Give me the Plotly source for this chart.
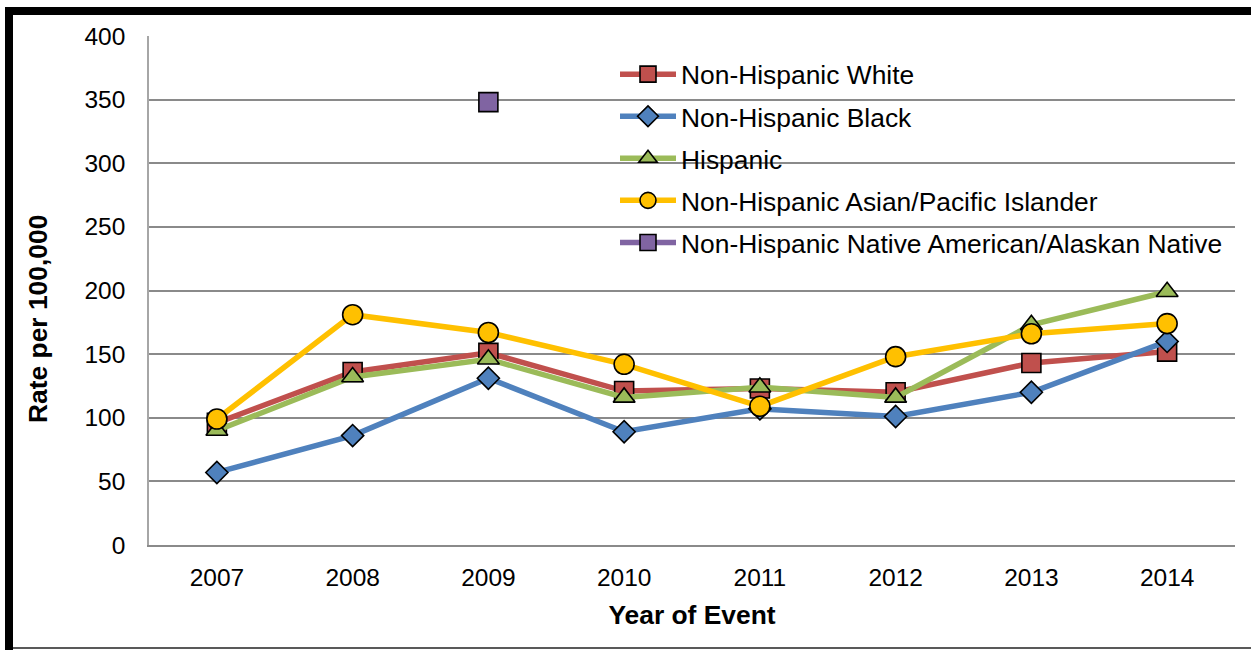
import plotly.graph_objects as go

# ---- data ----
years = ["2007", "2008", "2009", "2010", "2011", "2012", "2013", "2014"]
nh_white = [96, 136, 151, 121, 123, 120, 143, 152]
nh_black = [57, 86, 131, 89, 107, 101, 120, 160]
hispanic = [90, 132, 146, 116, 124, 116, 173, 199]
nh_asian_pi = [99, 181, 167, 142, 109, 148, 166, 174]
nh_native = [None, None, 348, None, None, None, None, None]
y_ticks = [0, 50, 100, 150, 200, 250, 300, 350, 400]

# ---- page geometry (px) ----
W, H = 1251, 650
L, R, T, B = 149, 16, 36, 105
PW, PH = W - L - R, H - T - B


def px(xp, yp):
    """Convert page pixel coordinates to paper coordinates."""
    return (xp - L) / PW, (H - B - yp) / PH


FONT = "Liberation Sans, Arial, sans-serif"

series = [
    ("Non-Hispanic White", nh_white, "#C0504D", "square", 19),
    ("Non-Hispanic Black", nh_black, "#4F81BD", "diamond", 17),
    ("Hispanic", hispanic, "#9BBB59", "triangle-up", 19),
    ("Non-Hispanic Asian/Pacific Islander", nh_asian_pi, "#FFC000", "circle", 20),
    ("Non-Hispanic Native American/Alaskan Native", nh_native, "#8064A2", "square", 19),
]

fig = go.Figure()
for i, (name, vals, color, sym, size) in enumerate(series):
    fig.add_trace(go.Scatter(
        x=years, y=vals, name=name, mode="lines+markers",
        line=dict(color=color, width=5.5),
        marker=dict(symbol=sym, size=size, color=color,
                    line=dict(color="black", width=1.6)),
        connectgaps=False, legendgroup=f"g{i}",
    ))

# frame: heavy top and left rules, thin bottom rule
x0, y0 = px(5, 7)
x1, y1 = px(W, 15)
fig.add_shape(type="rect", xref="paper", yref="paper", x0=x0, x1=x1, y0=y0, y1=y1,
              fillcolor="black", line_width=0, layer="above")
x0, y0 = px(5, 7)
x1, y1 = px(13, H)
fig.add_shape(type="rect", xref="paper", yref="paper", x0=x0, x1=x1, y0=y0, y1=y1,
              fillcolor="black", line_width=0, layer="above")
x0, y0 = px(13, 648)
x1, _ = px(W, 648)
fig.add_shape(type="line", xref="paper", yref="paper", x0=x0, x1=x1, y0=y0, y1=y0,
              line=dict(color="#222222", width=1.5), layer="above")

# white panel behind the legend hides the gridlines there
x0, y0 = px(607, 44)
x1, y1 = px(1236, 266)
fig.add_shape(type="rect", xref="paper", yref="paper", x0=x0, x1=x1, y0=y0, y1=y1,
              fillcolor="white", line_width=0, layer="between")

# y-axis title
tx, ty = px(38, 319)
fig.add_annotation(text="<b>Rate per 100,000</b>", xref="paper", yref="paper",
                   x=tx, y=ty, xanchor="center", yanchor="middle", textangle=-90,
                   showarrow=False, font=dict(size=26.4, family=FONT, color="black"))

lx, ly = px(615, 50.5)
fig.update_layout(
    width=W, height=H,
    margin=dict(l=L, r=R, t=T, b=B, autoexpand=False),
    paper_bgcolor="white", plot_bgcolor="white",
    font=dict(family=FONT, color="black"),
    showlegend=True,
    legend=dict(x=lx, y=ly, xanchor="left", yanchor="top",
                bgcolor="rgba(0,0,0,0)", borderwidth=0,
                font=dict(size=26.4, family=FONT, color="black"),
                tracegroupgap=4.75, itemwidth=56),
    xaxis=dict(
        type="category", range=[-0.5, 7.5],
        showgrid=False, showline=True, linecolor="#8A8A8A", linewidth=2,
        ticks="", tickfont=dict(size=24.5), ticklabelstandoff=10,
        title=dict(text="<b>Year of Event</b>", font=dict(size=26.4), standoff=15),
        zeroline=False, fixedrange=True,
    ),
    yaxis=dict(
        range=[0, 400], tickvals=y_ticks,
        showgrid=True, gridcolor="#8A8A8A", gridwidth=2,
        showline=True, linecolor="#A6A6A6", linewidth=1.5,
        ticks="", tickfont=dict(size=24.5), ticklabelstandoff=17,
        zeroline=False, fixedrange=True,
    ),
)

fig.write_html("out.html")
